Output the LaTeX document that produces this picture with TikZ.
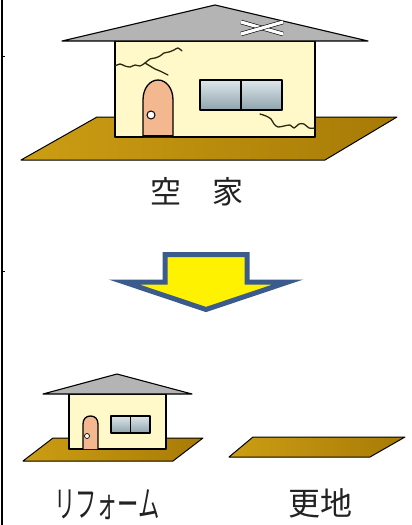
\documentclass[tikz,border=0pt]{standalone}
\usepackage{fontspec}
\newfontfamily\jpfont{Noto Sans CJK JP}
\definecolor{wallc}{HTML}{FFF9C9}
\definecolor{roofc}{HTML}{B4B4B4}
\definecolor{doorc}{HTML}{F4B890}
\definecolor{groundL}{HTML}{CC9E14}
\definecolor{groundR}{HTML}{A77A06}
\definecolor{glassT}{HTML}{DDE7EC}
\definecolor{glassB}{HTML}{8FA3AC}
\definecolor{crackc}{HTML}{2A2A10}
\definecolor{arrowedge}{HTML}{3B5B8C}
\definecolor{textc}{HTML}{222222}
\begin{document}
\begin{tikzpicture}[x=1pt,y=-1pt,
  outline/.style={draw=black, line width=1.3pt, line join=round},
  ground/.style={draw=black, line width=1pt, line join=round, left color=groundL, right color=groundR},
  wall/.style={outline, fill=wallc},
  roof/.style={outline, line width=1.1pt, fill=roofc},
  door/.style={outline, fill=doorc},
  knob/.style={draw=black, line width=1pt, fill=white},
  glass/.style={outline, top color=glassT, bottom color=glassB},
  crack/.style={draw=crackc, line width=1.3pt, line cap=round, line join=round},
  patch/.style={draw=black, line width=0.6pt, double=white, double distance=3.2pt},
  bigarrow/.style={draw=arrowedge, fill=yellow, line width=5pt, miter limit=25},
  label/.style={text=textc, inner sep=0pt, font=\jpfont}]
\useasboundingbox (0,0) rectangle (412,525);

% frame edge on the left
\draw[line width=2pt] (2,0) -- (2,525);
\draw[line width=1pt] (2,56) -- (4.5,56);
\draw[line width=1pt] (2,271) -- (4.5,271);

% ---- vacant house ----
\path[ground] (97,117) -- (397,117) -- (325,160) -- (21,160) -- cycle;
\path[wall] (115,41) rectangle (315,137);
\path[roof] (62,41) -- (215,5) -- (368,41) -- cycle;
% patched roof
\draw[patch] (241,22) -- (283,34);
\draw[patch] (241,34) -- (283,22);
% door with knob
\path[door] (143,137) -- (143,100) .. controls (143,88) and (150,80) .. (158,80)
  .. controls (166,80) and (173,88) .. (173,100) -- (173,137);
\draw[line width=2pt] (143,136) -- (173,136);
\path[knob] (151,115) circle (4);
% window
\path[glass] (200,80) rectangle (282,110);
\draw[line width=1.3pt] (241,80) -- (241,110);
% wall cracks
\draw[crack] plot[smooth] coordinates {(115,66) (120,64) (125,66) (130,67) (135,65)
  (140,66) (145,63) (150,59) (155,58) (160,56) (164,53) (169,52) (174,50) (178,48) (182,51)};
\draw[crack] plot[smooth] coordinates {(145,63) (150,66) (155,69) (160,71) (164,73) (168,75)};
\draw[crack] plot[smooth] coordinates {(260,114) (266,116) (271,119) (274,124) (278,127)
  (284,126) (290,125) (294,128) (299,124) (304,124) (309,128) (315,128)};

\node[label, font=\jpfont\fontsize{31}{31}\selectfont] (vacant) at (197,192) {空\hspace{31pt}家};

% ---- arrow ----
\path[bigarrow] (165,254.5) -- (247,254.5) -- (247,282) -- (288,282) -- (206,309.5)
  -- (124,282) -- (165,282) -- cycle;

% ---- renovated house ----
\path[ground] (53,438) -- (203,438) -- (173,461) -- (23,461) -- cycle;
\path[wall] (69,394) rectangle (166,449);
\path[roof] (43,394) -- (117,374) -- (192,394) -- cycle;
\path[door] (83,449) -- (83,424) .. controls (83,419) and (86,416) .. (90.5,416)
  .. controls (95,416) and (98,419) .. (98,424) -- (98,449);
\path[knob, line width=0.7pt] (87,436) circle (2.5);
\path[glass] (111,416) rectangle (150,433);
\draw[line width=1.3pt] (130.5,416) -- (130.5,433);

\node[label, font=\jpfont\fontsize{28}{28}\selectfont, xscale=0.76, yscale=1.3] (reform) at (107,505) {リフォーム};

% ---- cleared lot ----
\path[ground] (253,437) -- (405,437) -- (370,457) -- (229,457) -- cycle;

\node[label, font=\jpfont\fontsize{32}{32}\selectfont] (lot) at (320,503) {更地};
\end{tikzpicture}
\end{document}
